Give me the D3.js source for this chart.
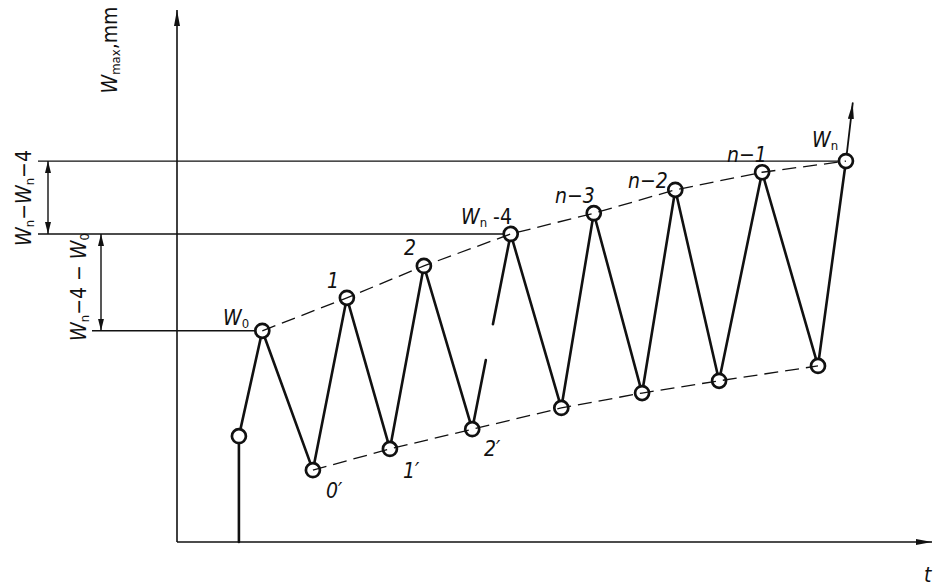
<!DOCTYPE html>
<html>
<head>
<meta charset="utf-8">
<script src="https://cdn.jsdelivr.net/npm/d3@7"></script>
<style>
  html, body { margin: 0; padding: 0; background: #fff; }
  svg { display: block; }
  text { font-family: "Liberation Sans Narrow", "DejaVu Sans Condensed", "Liberation Sans", sans-serif; fill: #111; }
</style>
</head>
<body>
<svg id="chart" width="935" height="586"></svg>
<script>
// Cycle sequence of deflection W over time t: start, then peak/trough pairs
const startPoint = { t: 8.2, w: 19.9 };
const peakNames  = ["W0", "1", "2", "Wn-4", "n-3", "n-2", "n-1", "Wn"];
const peakT      = [11.3, 22.5, 32.7, 44.2, 55.2, 66.0, 77.5, 88.6];
const peakW      = [39.7, 45.9, 51.9, 57.9, 61.8, 66.2, 69.5, 71.6];
const troughNames = ["0'", "1'", "2'", "", "", "", ""];
const troughT    = [18.0, 28.2, 39.1, 50.9, 61.6, 71.8, 84.9];
const troughW    = [13.5, 17.5, 21.2, 25.2, 28.0, 30.3, 33.1];
// final load continues upward past Wn
const finalArrow = { t: 89.5, w: 82.5 };
// interrupted segment (2' -> Wn-4): omitted part as fractions of its length
const breakFrom = 0.354, breakTo = 0.538;

const svg = d3.select("#chart");
const x = d3.scaleLinear().domain([0, 100]).range([177, 932]);
const y = d3.scaleLinear().domain([0, 100]).range([542, 10]);

const ink = "#111";
const P = (t, w) => [x(t), y(w)];

// arrowhead markers
const defs = svg.append("defs");
defs.append("marker").attr("id", "arr").attr("viewBox", "0 0 12 6")
  .attr("refX", 12).attr("refY", 3).attr("markerWidth", 12).attr("markerHeight", 6)
  .attr("markerUnits", "userSpaceOnUse").attr("orient", "auto-start-reverse")
  .append("path").attr("d", "M0,0 L12,3 L0,6 Z").attr("fill", ink);
defs.append("marker").attr("id", "arrBig").attr("viewBox", "0 0 16 6")
  .attr("refX", 16).attr("refY", 3).attr("markerWidth", 16).attr("markerHeight", 6)
  .attr("markerUnits", "userSpaceOnUse").attr("orient", "auto")
  .append("path").attr("d", "M0,0 L16,3 L0,6 Z").attr("fill", ink);

// axes
svg.append("line").attr("x1", x(0)).attr("y1", y(0)).attr("x2", x(0)).attr("y2", y(100))
  .attr("stroke", ink).attr("stroke-width", 1.6).attr("marker-end", "url(#arrBig)");
svg.append("line").attr("x1", x(0)).attr("y1", y(0)).attr("x2", x(100)).attr("y2", y(0))
  .attr("stroke", ink).attr("stroke-width", 1.6).attr("marker-end", "url(#arrBig)");

// reference levels: Wn, Wn-4, W0
const wN = peakW[7], wN4 = peakW[3], w0 = peakW[0];
const refLines = [
  { w: wN,  x0: 38, t1: peakT[7] },
  { w: wN4, x0: 38, t1: peakT[3] },
  { w: w0,  x0: 92, t1: peakT[0] }
];
svg.selectAll("line.ref").data(refLines).join("line").attr("class", "ref")
  .attr("x1", d => d.x0).attr("x2", d => x(d.t1))
  .attr("y1", d => y(d.w)).attr("y2", d => y(d.w))
  .attr("stroke", ink).attr("stroke-width", 1.4);

// dimension arrows
const dims = [
  { xp: 48,  wa: wN,  wb: wN4 },
  { xp: 101, wa: wN4, wb: w0 }
];
svg.selectAll("line.dim").data(dims).join("line").attr("class", "dim")
  .attr("x1", d => d.xp).attr("x2", d => d.xp)
  .attr("y1", d => y(d.wa)).attr("y2", d => y(d.wb))
  .attr("stroke", ink).attr("stroke-width", 1.4)
  .attr("marker-start", "url(#arr)").attr("marker-end", "url(#arr)");

// zigzag path points
const seq = [[startPoint.t, startPoint.w]];
peakT.forEach((t, i) => {
  seq.push([t, peakW[i]]);
  if (i < troughT.length) seq.push([troughT[i], troughW[i]]);
});

const R = 7;
const solid = svg.append("g").attr("stroke", ink).attr("stroke-width", 2.6).attr("stroke-linecap", "round");
// initial loading from t axis
solid.append("line").attr("x1", x(startPoint.t)).attr("x2", x(startPoint.t))
  .attr("y1", y(0)).attr("y2", y(startPoint.w));
for (let i = 0; i < seq.length - 1; i++) {
  const [ax, ay] = P(...seq[i]);
  const [bx, by] = P(...seq[i + 1]);
  // the 2' -> Wn-4 segment is drawn interrupted
  if (seq[i][0] === troughT[2]) {
    solid.append("line").attr("x1", ax).attr("y1", ay)
      .attr("x2", ax + (bx - ax) * breakFrom).attr("y2", ay + (by - ay) * breakFrom);
    solid.append("line").attr("x1", ax + (bx - ax) * breakTo).attr("y1", ay + (by - ay) * breakTo)
      .attr("x2", bx).attr("y2", by);
  } else {
    solid.append("line").attr("x1", ax).attr("y1", ay).attr("x2", bx).attr("y2", by);
  }
}
// continuation beyond Wn
solid.append("line").attr("x1", x(peakT[7])).attr("y1", y(peakW[7]))
  .attr("x2", x(finalArrow.t)).attr("y2", y(finalArrow.w))
  .attr("stroke-width", 1.8).attr("marker-end", "url(#arrBig)");

// circles at every state
svg.append("g").selectAll("circle").data(seq).join("circle")
  .attr("cx", d => x(d[0])).attr("cy", d => y(d[1])).attr("r", R)
  .attr("fill", "#fff").attr("stroke", ink).attr("stroke-width", 2.7);

// dashed envelopes through peaks and troughs
const lineGen = d3.line().x(d => x(d[0])).y(d => y(d[1]));
svg.append("path").datum(peakT.map((t, i) => [t, peakW[i]])).attr("d", lineGen)
  .attr("fill", "none").attr("stroke", ink).attr("stroke-width", 1.3).attr("stroke-dasharray", "14,7");
svg.append("path").datum(troughT.map((t, i) => [t, troughW[i]])).attr("d", lineGen)
  .attr("fill", "none").attr("stroke", ink).attr("stroke-width", 1.3).attr("stroke-dasharray", "14,7");

// labels
const fs = 21;
function wLabel(g, sub, rest) {
  g.append("tspan").attr("font-style", "italic").text("W");
  g.append("tspan").attr("font-size", fs * 0.62).attr("dy", 3).text(sub);
  if (rest) g.append("tspan").attr("dy", -3).text(rest);
}
const lab = svg.append("g").attr("font-size", fs);

// peak labels
const peakLabelPos = [[223, 325], [327, 288], [404, 255], [461, 224], [555, 203], [628, 188], [727, 162], [812, 147]];
peakNames.forEach((n, i) => {
  const t = lab.append("text").attr("x", peakLabelPos[i][0]).attr("y", peakLabelPos[i][1]);
  if (n === "W0") wLabel(t, "0");
  else if (n === "Wn") wLabel(t, "n");
  else if (n === "Wn-4") wLabel(t, "n", " -4");
  else t.attr("font-style", "italic").text(n.replace("-", "\u2212"));
});
const troughLabelPos = [[326, 498], [403, 478], [484, 456]];
troughNames.forEach((n, i) => {
  if (!n) return;
  lab.append("text").attr("font-style", "italic")
    .attr("x", troughLabelPos[i][0]).attr("y", troughLabelPos[i][1]).text(n.replace("'", "\u2032"));
});

// rotated axis / dimension labels
function rotLabel(cx, cy, build) {
  const t = lab.append("text").attr("text-anchor", "middle")
    .attr("transform", `translate(${cx},${cy}) rotate(-90)`);
  build(t);
}
rotLabel(117, 50, t => { wLabel(t, "max", ",mm"); });
rotLabel(31, 198, t => {
  wLabel(t, "n", "\u2212");
  t.append("tspan").attr("font-style", "italic").text("W");
  t.append("tspan").attr("font-size", fs * 0.62).attr("dy", 3).text("n");
  t.append("tspan").attr("dy", -3).text("\u22124");
});
rotLabel(86, 287, t => {
  wLabel(t, "n", "\u22124 \u2212 ");
  t.append("tspan").attr("font-style", "italic").text("W");
  t.append("tspan").attr("font-size", fs * 0.62).attr("dy", 3).text("0");
});

lab.append("text").attr("x", 924).attr("y", 582).attr("font-style", "italic").text("t");
</script>
</body>
</html>
